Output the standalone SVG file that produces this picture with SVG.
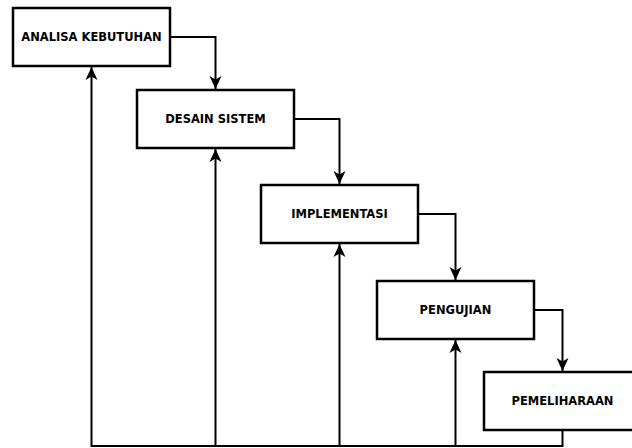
<svg xmlns="http://www.w3.org/2000/svg" width="632" height="448" viewBox="0 0 632 448">
<style>
.box{fill:#fff;stroke:#000;stroke-width:2.5}
.lbl{font-family:"DejaVu Sans",sans-serif;font-weight:bold;font-size:11.5px;fill:#000;text-anchor:middle;dominant-baseline:central}
.ln{fill:none;stroke:#000;stroke-width:2}
</style>
<defs>
<marker id="arr" markerUnits="userSpaceOnUse" markerWidth="14" markerHeight="14" viewBox="0 0 14 14" refX="13" refY="7" orient="auto">
<path d="M0,1 L13,7 L0,13 L3.5,7 z" fill="#000"/>
</marker>
</defs>
<rect width="632" height="448" fill="#fff"/>
<g id="connectors">
<path class="ln" d="M170,37 H215.5 V89" marker-end="url(#arr)"/>
<path class="ln" d="M294,119 H339.5 V184" marker-end="url(#arr)"/>
<path class="ln" d="M418,214 H455.5 V280" marker-end="url(#arr)"/>
<path class="ln" d="M534,310 H562.5 V371" marker-end="url(#arr)"/>
<path class="ln" d="M562.5,430 V446 H91.5 V67" marker-end="url(#arr)"/>
<path class="ln" d="M215.5,446 V149" marker-end="url(#arr)"/>
<path class="ln" d="M339.5,446 V244" marker-end="url(#arr)"/>
<path class="ln" d="M455.5,446 V340" marker-end="url(#arr)"/>
</g>
<g id="n1"><rect class="box" x="13" y="8" width="157" height="58"/><text class="lbl" x="91.5" y="37">ANALISA KEBUTUHAN</text></g>
<g id="n2"><rect class="box" x="137" y="90" width="157" height="58"/><text class="lbl" x="215.5" y="119">DESAIN SISTEM</text></g>
<g id="n3"><rect class="box" x="261" y="185" width="157" height="58"/><text class="lbl" x="339.5" y="214">IMPLEMENTASI</text></g>
<g id="n4"><rect class="box" x="377" y="281" width="157" height="58"/><text class="lbl" x="455.5" y="310">PENGUJIAN</text></g>
<g id="n5"><rect class="box" x="484" y="372" width="157" height="58"/><text class="lbl" x="562.5" y="401">PEMELIHARAAN</text></g>
</svg>
